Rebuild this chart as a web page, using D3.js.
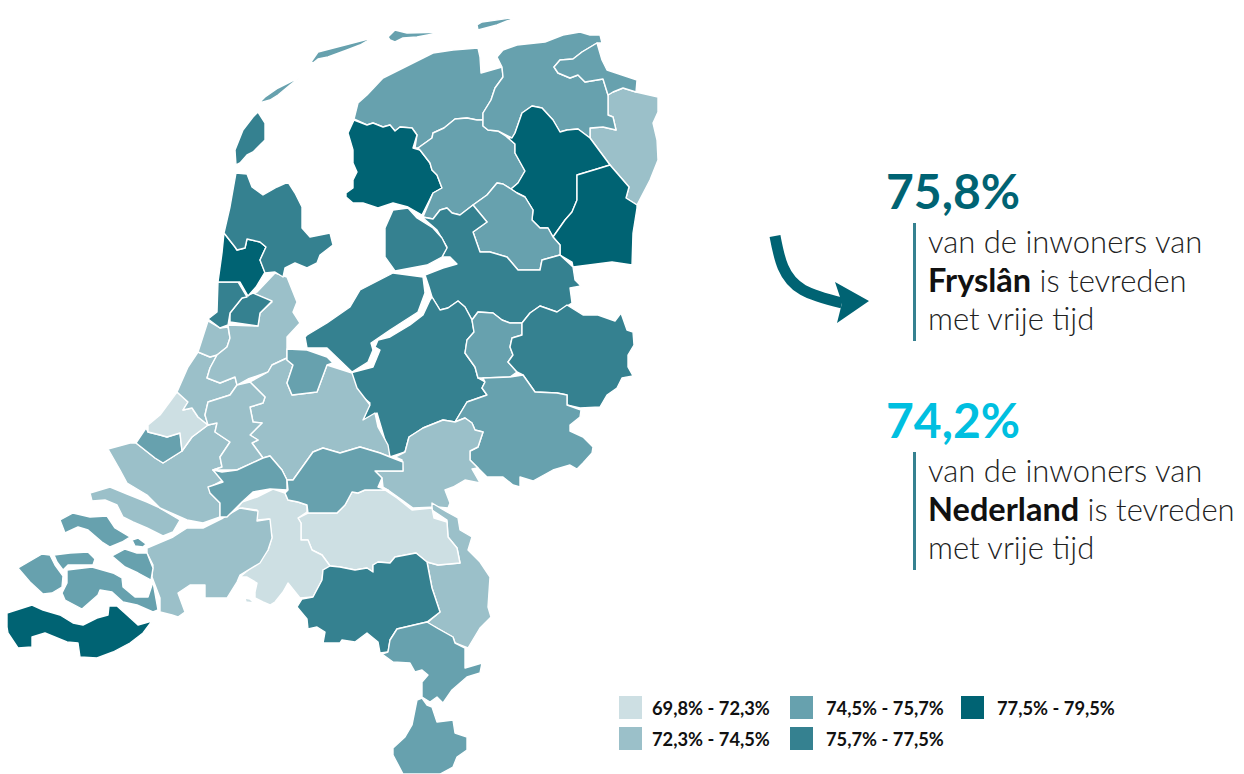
<!DOCTYPE html>
<html><head><meta charset="utf-8">
<script src="https://cdn.jsdelivr.net/npm/d3@7"></script>
<style>html,body{margin:0;background:#fff}svg{display:block;font-family:Lato,sans-serif}</style>
</head><body><svg id="c" width="1244" height="774"></svg>
<script>
const regionNames=["Texel","Vlieland","Terschelling","Ameland","Schiermonnikoog","Noord-Friesland","Zuidwest-Friesland","Zuidoost-Friesland","Oost-Groningen","Overig Groningen","Delfzijl e.o.","Noord-Drenthe","Zuidoost-Drenthe","Zuidwest-Drenthe","Noord-Overijssel","Noordoostpolder","Flevoland","Veluwe","Zutphen","Twente","Achterhoek","Arnhem/Nijmegen","Noord-Limburg","Noordoost-Brabant","Midden-Brabant","West-Brabant","Zeeuws-Vlaanderen","Schouwen","Noord-Beveland","Walcheren","Zuid-Beveland","Tholen","Sint Philipsland","Goeree-Overflakkee","Zuid-Holland Zuid","Rijnmond","Haaglanden","Leiden","Haarlem-Zuid","Amstelland","Groot-Amsterdam","Agglomeratie Haarlem","Alkmaar","Kop van Noord-Holland","Utrecht","Gooi en Vechtstreek","Gouda","Dordrecht","Rivierenland","Zuidoost-Brabant","Midden-Limburg","Zuid-Limburg","Biesbosch"];
const regionValues=[76.5,75,75,75,75,75,78,75,73.5,75,75,78,78,75,76.5,76.5,76.5,76.5,75,76.5,75,73.5,73.5,71,71,73.5,78,75,75,75,75,75,75,73.5,73.5,75,71,73.5,73.5,73.5,76.5,76.5,78,76.5,73.5,75,73.5,75,75,76.5,75,75,71];
const regionRings=[
[[258,112],[265,123],[265,140],[253,152],[247,155],[240,163],[236,165],[235,150],[243,130],[253,117]],
[[259,103],[265,97],[278,88],[300,77],[290,85],[278,95],[270,100]],
[[311,62],[318,52],[372,38],[360,45],[347,50],[328,57],[318,59],[313,63]],
[[388,37],[395,30],[407,33],[447,32],[433,34],[417,37],[403,38],[395,42],[390,40]],
[[477,25],[482,22],[518,17],[507,21],[497,25],[478,30]],
[[354,119],[358,103],[367,95],[383,78],[403,68],[423,58],[433,53],[453,50],[478,48],[480,57],[481,73],[502,67],[503,77],[495,88],[491,100],[483,113],[483,120],[477,120],[467,118],[455,119],[444,128],[433,133],[432,138],[418,148],[415,148],[417,135],[412,128],[400,127],[395,131],[390,125],[383,127],[373,123],[367,125]],
[[354,120],[367,125],[373,123],[383,127],[390,125],[395,131],[400,127],[412,128],[417,135],[413,148],[420,150],[430,163],[432,170],[437,175],[442,188],[433,193],[422,215],[408,207],[393,203],[378,208],[363,203],[353,203],[346,197],[346,193],[353,188],[353,180],[357,172],[353,163],[353,150],[348,133]],
[[418,148],[432,138],[433,133],[444,128],[455,119],[467,118],[477,120],[483,120],[483,126],[488,130],[498,131],[507,137],[515,144],[515,153],[525,171],[518,183],[511,189],[503,184],[497,183],[487,195],[473,205],[460,215],[452,213],[447,208],[440,210],[433,219],[423,217],[433,193],[442,188],[437,175],[432,170],[430,163],[420,150]],
[[608,95],[613,92],[623,88],[636,92],[658,97],[658,112],[653,123],[657,140],[658,160],[650,180],[637,205],[626,198],[629,187],[610,165],[590,138],[590,128],[603,127],[616,130],[613,117],[608,115]],
[[503,50],[517,45],[545,42],[563,35],[580,32],[590,35],[600,35],[602,43],[597,43],[582,52],[573,59],[560,60],[554,67],[558,73],[570,78],[578,75],[585,82],[603,79],[608,95],[608,115],[613,117],[616,130],[603,127],[590,128],[590,138],[578,129],[567,130],[560,132],[553,120],[542,108],[532,106],[522,113],[515,133],[512,138],[498,131],[488,130],[483,126],[483,120],[483,113],[491,100],[495,88],[503,77],[502,67],[497,57]],
[[597,43],[602,60],[607,70],[637,80],[636,92],[623,88],[613,92],[608,95],[603,79],[585,82],[578,75],[570,78],[558,73],[554,67],[560,60],[573,59],[582,52]],
[[507,137],[512,138],[515,133],[522,113],[532,106],[542,108],[553,120],[560,132],[567,130],[578,129],[590,138],[610,165],[597,169],[577,175],[577,200],[572,212],[565,220],[553,237],[548,228],[540,228],[532,220],[533,210],[525,197],[517,193],[511,189],[518,183],[525,171],[515,153],[515,144]],
[[610,165],[629,187],[626,198],[637,205],[637,208],[633,233],[632,265],[612,262],[573,267],[572,262],[560,255],[560,245],[553,237],[565,220],[572,212],[577,200],[577,175],[597,169]],
[[497,183],[503,184],[511,189],[517,193],[525,197],[533,210],[532,220],[540,228],[548,228],[553,237],[560,245],[560,255],[542,260],[540,270],[527,270],[518,270],[507,257],[490,252],[480,252],[473,232],[487,222],[473,205],[487,195]],
[[422,217],[433,219],[440,210],[447,208],[452,213],[460,215],[473,205],[487,222],[473,232],[480,252],[490,252],[507,257],[518,270],[527,270],[540,270],[542,260],[560,255],[573,267],[575,280],[581,286],[570,288],[572,303],[557,312],[540,306],[530,313],[522,323],[510,323],[502,320],[493,313],[478,312],[472,320],[465,307],[458,301],[448,308],[440,310],[432,297],[429,287],[425,275],[443,268],[457,264],[450,257],[442,257],[447,247],[437,230]],
[[393,210],[408,208],[417,218],[433,228],[442,238],[447,248],[442,257],[427,265],[395,271],[385,257],[385,228]],
[[305,337],[307,348],[327,348],[352,372],[368,362],[373,350],[371,343],[390,330],[418,312],[425,293],[423,277],[393,273],[360,290],[350,307],[327,323],[307,335]],
[[432,297],[440,310],[448,308],[458,301],[465,307],[472,320],[474,332],[467,340],[465,353],[475,367],[478,378],[485,382],[482,388],[487,395],[467,402],[455,422],[443,420],[423,428],[409,437],[405,452],[390,457],[382,430],[377,413],[367,420],[363,420],[370,403],[357,392],[350,380],[350,373],[373,367],[380,350],[375,347],[378,340],[390,337],[410,325],[423,315],[430,300]],
[[478,312],[493,313],[502,320],[510,323],[522,323],[522,335],[512,338],[510,347],[513,355],[508,362],[517,372],[510,377],[483,378],[478,378],[475,367],[465,353],[467,340],[474,332],[472,320]],
[[522,323],[530,313],[540,306],[557,312],[567,305],[583,315],[598,315],[615,321],[621,313],[627,330],[633,332],[634,345],[628,355],[628,367],[633,376],[622,378],[617,388],[607,395],[600,407],[580,408],[567,405],[567,395],[557,393],[535,392],[523,375],[517,372],[508,362],[513,355],[510,347],[512,338],[522,335]],
[[483,378],[510,377],[523,375],[535,392],[557,393],[567,395],[567,405],[581,410],[580,417],[570,425],[570,431],[583,437],[593,447],[592,453],[583,463],[577,469],[570,465],[553,470],[533,481],[520,477],[520,487],[513,485],[503,477],[487,477],[478,468],[470,460],[470,451],[478,447],[483,432],[475,430],[472,423],[465,418],[455,422],[467,402],[487,395],[482,388],[485,382]],
[[455,422],[465,418],[472,423],[475,430],[483,432],[478,447],[470,451],[470,460],[478,468],[472,469],[480,483],[465,480],[453,487],[445,490],[450,503],[448,508],[437,507],[413,508],[402,500],[388,490],[383,487],[382,478],[375,471],[403,471],[402,460],[395,457],[405,452],[409,437],[423,428],[443,420]],
[[432,503],[447,512],[458,518],[460,530],[472,537],[468,550],[480,562],[490,577],[488,607],[491,617],[480,628],[468,648],[455,643],[453,637],[437,628],[427,623],[440,612],[432,588],[427,562],[438,565],[460,563],[457,548],[448,537],[447,520],[432,510]],
[[298,518],[308,513],[325,513],[337,513],[345,505],[352,492],[358,493],[365,490],[375,490],[385,490],[397,498],[412,510],[432,508],[434,518],[447,522],[448,537],[457,548],[460,563],[438,565],[427,562],[416,553],[395,557],[390,563],[378,562],[373,565],[373,572],[367,568],[355,570],[340,567],[330,566],[322,555],[312,550],[308,540],[301,540],[301,523]],
[[230,518],[242,502],[257,497],[273,489],[285,493],[288,500],[298,502],[307,505],[307,512],[298,518],[301,523],[301,540],[308,540],[312,550],[322,555],[330,566],[323,570],[322,580],[313,597],[300,598],[288,583],[283,592],[275,602],[270,605],[263,602],[255,598],[255,592],[257,583],[247,577],[240,577],[260,560],[268,550],[272,537],[269,519],[257,520],[257,510],[242,508]],
[[147,548],[173,537],[187,528],[203,528],[223,518],[240,508],[258,511],[257,521],[270,519],[272,538],[268,550],[260,563],[240,575],[237,582],[227,598],[205,598],[205,585],[190,585],[178,593],[185,612],[178,617],[172,615],[160,612],[160,598],[152,577],[153,565],[147,553]],
[[7,613],[32,605],[43,610],[60,615],[73,623],[83,625],[97,618],[108,615],[109,606],[117,606],[127,615],[138,625],[152,621],[143,633],[130,643],[113,652],[97,658],[80,657],[78,643],[67,642],[45,633],[32,637],[32,647],[18,648],[8,633],[7,627]],
[[60,520],[73,513],[90,517],[107,516],[115,528],[130,537],[122,542],[110,547],[102,542],[88,530],[78,527],[65,533]],
[[54,555],[70,553],[88,552],[95,559],[93,565],[80,565],[68,565],[63,570],[57,562]],
[[18,568],[42,554],[50,555],[55,565],[63,576],[62,587],[52,593],[43,594],[30,582]],
[[67,570],[92,567],[113,573],[122,578],[123,587],[135,597],[148,597],[153,582],[158,610],[153,612],[137,605],[123,602],[112,592],[100,590],[98,595],[82,609],[65,600],[62,593],[67,583]],
[[112,556],[125,549],[137,553],[147,553],[153,568],[151,580],[138,573],[125,567]],
[[132,540],[138,538],[146,544],[143,547],[135,546]],
[[90,493],[110,487],[127,494],[147,502],[158,507],[180,520],[173,532],[163,536],[147,528],[133,522],[123,517],[117,505],[105,500],[92,501]],
[[108,449],[130,443],[136,443],[155,458],[163,463],[182,451],[192,437],[208,425],[217,423],[215,432],[230,442],[220,457],[222,467],[213,470],[223,480],[210,487],[210,493],[220,503],[220,517],[203,523],[187,520],[160,508],[147,495],[127,483],[120,470]],
[[136,443],[146,428],[148,432],[160,435],[167,437],[180,433],[182,451],[163,463],[155,458]],
[[148,425],[160,415],[177,392],[188,402],[183,410],[192,408],[198,417],[208,425],[192,437],[182,451],[180,433],[167,437],[160,435],[148,432]],
[[198,352],[210,357],[217,355],[210,368],[207,378],[220,383],[235,377],[237,385],[230,395],[208,402],[205,415],[208,425],[198,417],[192,408],[183,410],[188,402],[177,392],[188,367]],
[[208,321],[220,328],[228,327],[230,338],[227,347],[217,355],[210,357],[198,352]],
[[228,325],[258,326],[260,313],[272,302],[253,293],[257,292],[275,273],[287,277],[297,302],[293,312],[300,323],[287,337],[287,358],[272,365],[268,372],[248,379],[237,385],[235,377],[220,383],[207,378],[210,368],[217,355],[227,347],[230,338]],
[[230,322],[230,313],[242,298],[253,293],[272,301],[260,313],[258,326]],
[[208,319],[217,312],[218,282],[238,282],[247,297],[242,298],[230,313],[228,325],[220,328]],
[[224,233],[235,247],[237,250],[245,248],[247,239],[260,242],[266,247],[260,260],[265,272],[256,287],[248,296],[240,282],[218,282],[222,253]],
[[236,173],[247,174],[252,187],[263,195],[277,187],[288,182],[295,193],[302,207],[302,228],[310,237],[330,233],[333,245],[320,255],[317,263],[307,268],[295,263],[285,268],[283,277],[275,272],[265,273],[260,260],[266,247],[260,242],[247,239],[245,248],[237,250],[235,247],[224,233],[230,207]],
[[250,382],[265,397],[263,403],[250,407],[253,422],[262,423],[250,435],[258,440],[252,443],[263,458],[270,456],[282,470],[287,480],[293,480],[313,452],[323,448],[340,453],[360,447],[380,453],[390,457],[388,445],[378,427],[375,413],[363,420],[370,405],[357,388],[352,373],[327,365],[317,392],[292,395],[287,383],[293,365],[287,360],[287,358],[272,365],[268,372]],
[[287,349],[307,350],[327,357],[333,363],[327,365],[317,392],[292,395],[287,383],[293,365],[287,360]],
[[250,382],[237,385],[230,395],[208,402],[205,415],[208,425],[217,423],[215,432],[230,442],[220,457],[222,467],[213,470],[237,470],[263,458],[252,443],[258,440],[250,435],[262,423],[253,422],[250,407],[263,403],[265,397]],
[[222,472],[237,470],[263,458],[270,456],[282,470],[287,480],[287,490],[270,489],[253,492],[242,502],[227,517],[220,517],[220,503],[210,493],[208,487],[223,482],[213,470]],
[[293,480],[313,452],[323,448],[340,453],[360,447],[380,453],[390,457],[403,462],[403,471],[375,471],[382,478],[378,487],[388,490],[365,490],[358,493],[352,492],[345,505],[337,513],[325,513],[308,513],[307,505],[298,502],[288,500],[285,493],[288,490],[287,480]],
[[330,566],[340,567],[355,570],[367,568],[373,572],[373,565],[378,562],[390,563],[395,557],[416,553],[427,562],[432,588],[440,612],[427,622],[397,629],[390,640],[388,652],[380,653],[378,642],[367,633],[355,642],[342,640],[340,643],[323,643],[325,632],[317,627],[308,629],[307,619],[297,607],[302,599],[313,597],[322,580],[323,570]],
[[397,629],[427,622],[437,628],[453,637],[455,643],[465,648],[465,668],[482,663],[480,673],[467,677],[452,690],[443,703],[437,697],[430,702],[422,697],[422,682],[428,675],[422,670],[415,672],[410,663],[393,662],[382,654],[388,652],[390,640]],
[[417,700],[422,698],[427,705],[432,707],[437,722],[453,720],[455,733],[467,737],[467,750],[457,757],[453,767],[440,774],[403,774],[393,755],[393,748],[405,737],[412,725],[415,710]],
[[245,598],[250,599],[254,603],[246,602]]
];
const legendLabels=["69,8% - 72,3%","72,3% - 74,5%","74,5% - 75,7%","75,7% - 77,5%","77,5% - 79,5%"];
const classColors=["#cddfe3","#9bc0c9","#67a1ae","#358190","#006373"];
const classBreaks=[72.3,74.5,75.7,77.5];
const callouts=[
 {pct:"75,8%",color:"#006373",bar:"#358190",place:"Fryslân"},
 {pct:"74,2%",color:"#00bfe0",bar:"#358190",place:"Nederland"}
];
const lineA="van de inwoners van",lineB=" is tevreden",lineC="met vrije tijd";

const svg=d3.select("#c");
const color=d3.scaleThreshold().domain(classBreaks).range(classColors);
const path=d3.geoPath(d3.geoIdentity());
const features=regionRings.map((r,i)=>({type:"Feature",properties:{name:regionNames[i],value:regionValues[i]},geometry:{type:"Polygon",coordinates:[[...r,r[0]]]}}));
svg.append("g").selectAll("path").data(features).join("path")
  .attr("d",path).attr("fill",d=>color(d.properties.value))
  .attr("stroke","#fff").attr("stroke-width",1.4).attr("stroke-linejoin","round");

const panelY=[0,229];
callouts.forEach((c,i)=>{
  const g=svg.append("g").attr("transform",`translate(0,${panelY[i]})`);
  g.append("text").attr("x",886).attr("y",209).attr("font-size",48).attr("font-weight",700).attr("fill",c.color).text(c.pct);
  g.append("rect").attr("x",913).attr("y",223).attr("width",3).attr("height",118).attr("fill",c.bar);
  const t=(y)=>g.append("text").attr("x",928).attr("y",y).attr("font-size",31).attr("font-weight",300).attr("fill","#222");
  t(253).text(lineA);
  const m=t(292);
  m.append("tspan").attr("font-weight",700).attr("font-size",32.5).attr("fill","#111").text(c.place);
  m.append("tspan").text(lineB);
  t(330).text(lineC);
});
svg.append("path").attr("d",d3.line().curve(d3.curveNatural)([[775,236],[783,267],[803,290],[842,303]])).attr("fill","none").attr("stroke","#006373").attr("stroke-width",11);
svg.append("path").attr("d","M835,282L869,301L837,323L842,303Z").attr("fill","#006373");

const legX=[619,790,961],legTextX=[652,826,997],legY=[696,727];
legendLabels.forEach((l,i)=>{
  const col=Math.floor(i/2),row=i%2;
  svg.append("rect").attr("x",legX[col]).attr("y",legY[row]).attr("width",23).attr("height",23).attr("fill",classColors[i]);
  svg.append("text").attr("x",legTextX[col]).attr("y",legY[row]+19).attr("font-size",18.3).attr("font-weight",700).attr("fill","#111").text(l);
});
</script></body></html>
